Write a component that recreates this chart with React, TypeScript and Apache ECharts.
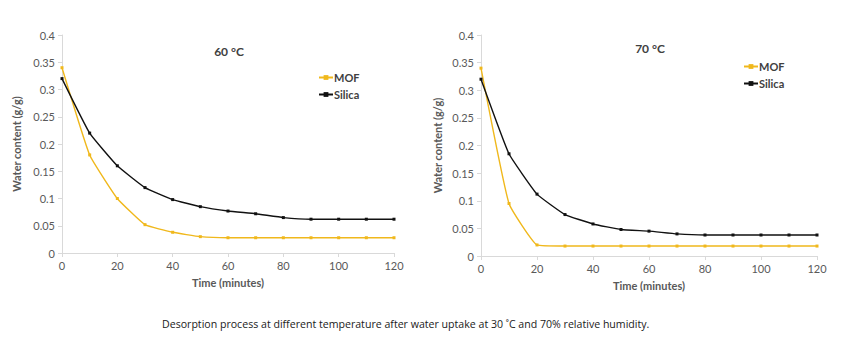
import React, { useEffect, useRef } from "react";
import * as echarts from "echarts";

const times = [0, 10, 20, 30, 40, 50, 60, 70, 80, 90, 100, 110, 120];
const mof60 = [0.34, 0.18, 0.1, 0.052, 0.038, 0.03, 0.028, 0.028, 0.028, 0.028, 0.028, 0.028, 0.028];
const silica60 = [0.32, 0.22, 0.16, 0.12, 0.098, 0.085, 0.077, 0.072, 0.065, 0.062, 0.062, 0.062, 0.062];
const mof70 = [0.34, 0.095, 0.02, 0.018, 0.018, 0.018, 0.018, 0.018, 0.018, 0.018, 0.018, 0.018, 0.018];
const silica70 = [0.32, 0.185, 0.112, 0.075, 0.058, 0.048, 0.045, 0.04, 0.038, 0.038, 0.038, 0.038, 0.038];
const titles = ["60 °C", "70 °C"];
const caption = "Desorption process at different temperature after water uptake at 30 ˚C and 70% relative humidity.";

const MOF_COLOR = "#F0B81C";
const SILICA_COLOR = "#111111";
const FONT = "Lato, 'Open Sans', sans-serif";

export default function App() {
  const ref = useRef<HTMLDivElement>(null);
  useEffect(() => {
    document.body.style.margin = "0";
    const chart = echarts.init(ref.current!, null, { renderer: "svg" });
    const grids = [
      { left: 62, top: 35, width: 332, height: 218 },
      { left: 481, top: 35, width: 336, height: 221 },
    ];
    const xAxis = grids.map((_, i) => ({
      type: "value",
      gridIndex: i,
      min: 0,
      max: 120,
      interval: 20,
      name: "Time (minutes)",
      nameLocation: "middle",
      nameGap: 24,
      nameTextStyle: { color: "#595959", fontSize: 11, fontWeight: "bold", fontFamily: FONT },
      axisLine: { show: true, lineStyle: { color: "#D9D9D9" } },
      axisTick: { show: true, length: 4, lineStyle: { color: "#D9D9D9" } },
      axisLabel: { color: "#595959", fontSize: 11, fontFamily: FONT, margin: 7 },
      splitLine: { show: false },
    }));
    const yAxis = grids.map((_, i) => ({
      type: "value",
      gridIndex: i,
      min: 0,
      max: 0.4,
      interval: 0.05,
      name: "Water content (g/g)",
      nameLocation: "middle",
      nameGap: i === 0 ? 40 : 38,
      nameTextStyle: { color: "#595959", fontSize: 11, fontWeight: "bold", fontFamily: FONT },
      axisLine: { show: true, lineStyle: { color: "#D9D9D9" } },
      axisTick: { show: true, length: 4, lineStyle: { color: "#D9D9D9" } },
      axisLabel: {
        color: "#595959",
        fontSize: 11,
        fontFamily: FONT,
        margin: 7,
        formatter: (v: number) => String(parseFloat(v.toFixed(2))),
      },
      splitLine: { show: false },
    }));
    const mk = (name: string, data: number[], color: string, idx: number) => ({
      name,
      type: "line",
      xAxisIndex: idx,
      yAxisIndex: idx,
      data: times.map((t, k) => [t, data[k]]),
      smooth: 0.12,
      symbol: "rect",
      symbolSize: 3,
      lineStyle: { color, width: 1.4 },
      itemStyle: { color },
    });
    const legendText = { color: "#404040", fontSize: 11, fontWeight: "bold", fontFamily: FONT, padding: [0, 0, 0, -4] };
    chart.setOption({
      animation: false,
      backgroundColor: "#ffffff",
      grid: grids,
      xAxis,
      yAxis,
      title: [
        { text: titles[0], left: 224, top: 40, textAlign: "center", textStyle: { color: "#404040", fontSize: 12, fontWeight: "bold", fontFamily: FONT } },
        { text: titles[1], left: 645, top: 37, textAlign: "center", textStyle: { color: "#404040", fontSize: 12, fontWeight: "bold", fontFamily: FONT } },
      ],
      legend: [
        {
          data: ["MOF", "Silica"],
          left: 313,
          top: 67,
          orient: "vertical",
          itemWidth: 14,
          itemHeight: 6,
          itemGap: 6,
          textStyle: legendText,
        },
        {
          data: ["MOF", "Silica"],
          left: 738,
          top: 56,
          orient: "vertical",
          itemWidth: 14,
          itemHeight: 6,
          itemGap: 6,
          textStyle: legendText,
        },
      ],
      graphic: [
        {
          type: "text",
          left: 162,
          top: 318,
          style: { text: caption, fill: "#1a1a1a", fontSize: 10.6, fontFamily: "'Open Sans', sans-serif" },
        },
      ],
      series: [
        mk("MOF", mof60, MOF_COLOR, 0),
        mk("Silica", silica60, SILICA_COLOR, 0),
        mk("MOF", mof70, MOF_COLOR, 1),
        mk("Silica", silica70, SILICA_COLOR, 1),
      ],
    });
    return () => chart.dispose();
  }, []);
  return <div ref={ref} style={{ width: 850, height: 354 }} />;
}
